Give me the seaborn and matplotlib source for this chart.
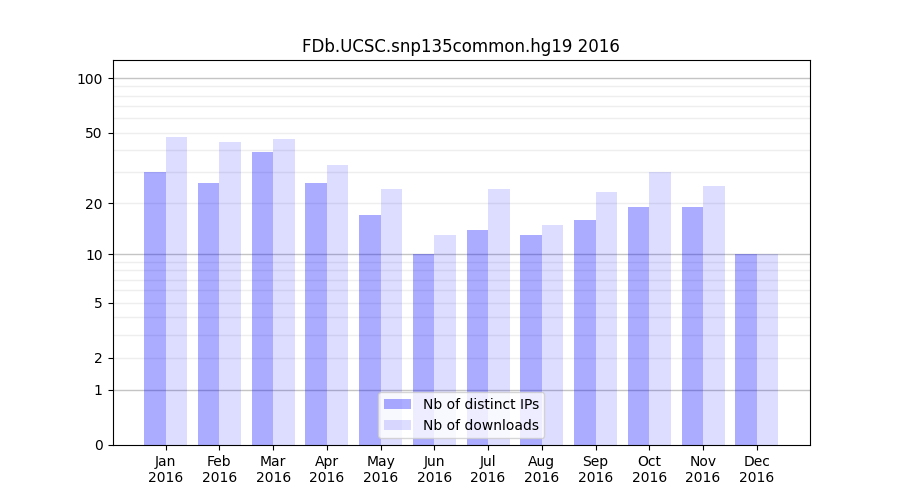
import numpy as np
import pandas as pd
import matplotlib
matplotlib.use('Agg')
import matplotlib.pyplot as plt
from matplotlib.ticker import FixedLocator, FixedFormatter, NullLocator
import seaborn as sns

# %%
months = ['Jan', 'Feb', 'Mar', 'Apr', 'May', 'Jun',
          'Jul', 'Aug', 'Sep', 'Oct', 'Nov', 'Dec']
year = '2016'
distinct_ips = [30, 26, 39, 26, 17, 10, 14, 13, 16, 19, 19, 10]
downloads = [47, 44, 46, 33, 24, 13, 24, 15, 23, 30, 25, 10]
series_names = ['Nb of distinct IPs', 'Nb of downloads']
ytick_values = [0, 1, 2, 5, 10, 20, 50, 100]

df = pd.DataFrame({
    'month': months * 2,
    'count': distinct_ips + downloads,
    'series': [series_names[0]] * len(months) + [series_names[1]] * len(months),
})

# %%
fig, ax = plt.subplots(figsize=(9, 5), dpi=100)

# log(1 + x) scale so that zero counts still show
ax.set_yscale('function', functions=(lambda v: np.log10(np.asarray(v) + 1.0),
                                     lambda v: 10.0 ** np.asarray(v) - 1.0))

# light grid, drawn under the (transparent) bars
for lvl in list(range(2, 10)) + list(range(20, 100, 10)):
    ax.axhline(lvl, color='#eeeeee', lw=1, zorder=0)
for lvl in [1, 10, 100]:
    ax.axhline(lvl, color='#c4c4c4', lw=1, zorder=0)

sns.barplot(data=df, x='month', y='count', hue='series', hue_order=series_names,
            palette=['blue', 'blue'], saturation=1, errorbar=None, width=0.8, ax=ax)

for container, a in zip(ax.containers, [0.33, 0.135]):
    for bar in container:
        bar.set_alpha(a)
        bar.set_edgecolor('none')

ax.set_xticks(range(len(months)))
ax.set_xticklabels([f'{m}\n{year}' for m in months])
ax.set_xlim(-0.99, 11.99)

ax.set_ylim(0, 126)
ax.yaxis.set_major_locator(FixedLocator(ytick_values))
ax.yaxis.set_major_formatter(FixedFormatter([str(v) for v in ytick_values]))
ax.yaxis.set_minor_locator(NullLocator())

ax.set_xlabel('')
ax.set_ylabel('')
ax.set_title(f'FDb.UCSC.snp135common.hg19 {year}')
ax.legend(ax.containers, series_names, loc='lower center')

plt.savefig('out.png')
plt.close()
